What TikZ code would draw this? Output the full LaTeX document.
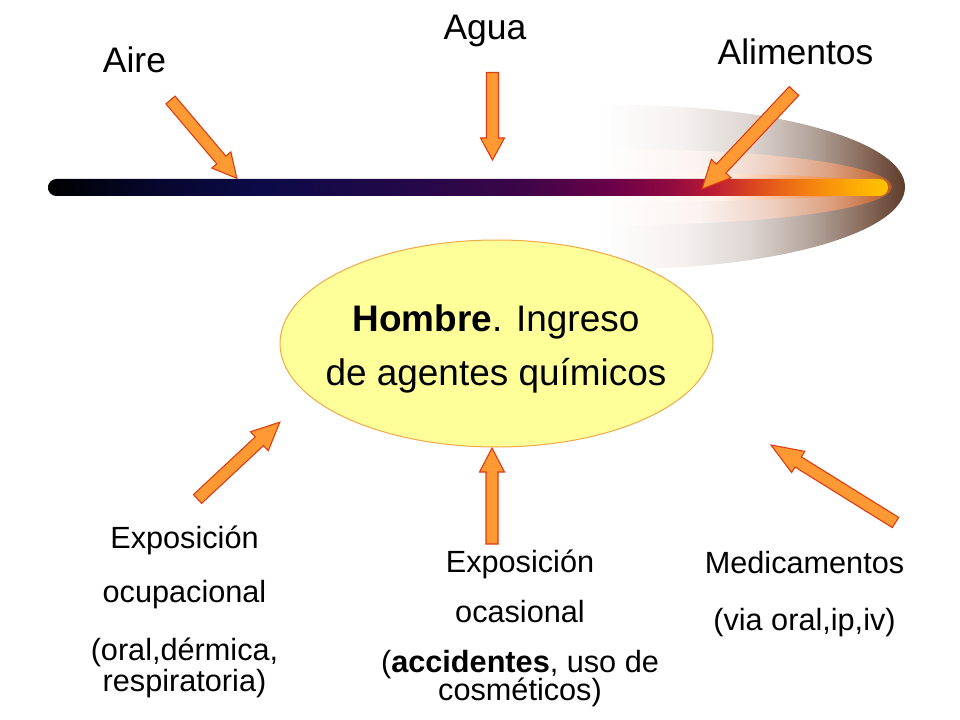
\documentclass[tikz,border=0pt]{standalone}
\usepackage{fontspec}
\setmainfont{Liberation Sans}
\usetikzlibrary{shapes.geometric}

\definecolor{arrfill}{HTML}{FF9933}
\definecolor{arrdraw}{HTML}{DD3A10}
\definecolor{ellfill}{HTML}{FFFF99}
\definecolor{elldraw}{HTML}{F0A848}

% bar colours
\definecolor{bA}{HTML}{000000}
\definecolor{bB}{HTML}{06062C}
\definecolor{bC}{HTML}{0C0A48}
\definecolor{bD}{HTML}{220848}
\definecolor{bE}{HTML}{3C0548}
\definecolor{bF}{HTML}{6A0048}
\definecolor{bG}{HTML}{900A40}
\definecolor{bH}{HTML}{B81A35}
\definecolor{bI}{HTML}{DA4420}
\definecolor{bJ}{HTML}{F27812}
\definecolor{bK}{HTML}{FCA806}
\definecolor{bL}{HTML}{FFC400}
\pgfdeclarehorizontalshading{barshade}{100bp}{color(0bp)=(bA); color(25bp)=(bA);
  color(31.07bp)=(bB); color(37.6bp)=(bC); color(45.95bp)=(bD); color(53.1bp)=(bE);
  color(58.45bp)=(bF); color(62bp)=(bG); color(64.4bp)=(bH); color(66.8bp)=(bI);
  color(69.76bp)=(bJ); color(72.74bp)=(bK); color(75bp)=(bL); color(100bp)=(bL)}

% comet outer glow
\definecolor{oA}{HTML}{FFFFFF}
\definecolor{oB}{HTML}{F5F2F1}
\definecolor{oC}{HTML}{DDD5D1}
\definecolor{oD}{HTML}{B4A59D}
\definecolor{oE}{HTML}{8C6F60}
\definecolor{oF}{HTML}{5E3C2A}
\pgfdeclarehorizontalshading{outershade}{100bp}{color(0bp)=(oA); color(25bp)=(oA);
  color(38.1bp)=(oB); color(49.6bp)=(oC); color(59.4bp)=(oD); color(67.6bp)=(oE);
  color(75bp)=(oF); color(100bp)=(oF)}

% comet middle band
\definecolor{mB}{HTML}{FBF3F0}
\definecolor{mC}{HTML}{EED0C2}
\definecolor{mD}{HTML}{DCA080}
\definecolor{mE}{HTML}{C87444}
\definecolor{mF}{HTML}{B05A2C}
\pgfdeclarehorizontalshading{midshade}{100bp}{color(0bp)=(oA); color(25bp)=(oA);
  color(42.1bp)=(mB); color(54.1bp)=(mC); color(64.4bp)=(mD); color(71.2bp)=(mE);
  color(75bp)=(mF); color(100bp)=(mF)}

% comet inner halo
\definecolor{iB}{HTML}{FFF3EC}
\definecolor{iC}{HTML}{F3A876}
\definecolor{iD}{HTML}{E87828}
\definecolor{iE}{HTML}{D86010}
\pgfdeclarehorizontalshading{innershade}{100bp}{color(0bp)=(oA); color(25bp)=(oA);
  color(45.7bp)=(iB); color(59.5bp)=(iC); color(69.8bp)=(iD); color(75bp)=(iE); color(100bp)=(iE)}

\tikzset{
  blockarrow/.style={fill=arrfill, draw=arrdraw, line width=0.8pt, line join=miter},
  toplbl/.style={anchor=base, inner sep=0pt, font=\fontsize{26.6}{30}\selectfont},
  manlbl/.style={anchor=base, inner sep=0pt, font=\fontsize{27.7}{32}\selectfont},
  botlbl/.style={anchor=base, inner sep=0pt, font=\fontsize{23}{27}\selectfont},
  hombrebox/.style={ellipse, fill=ellfill, draw=elldraw, line width=0.75pt,
    minimum width=324.75pt, minimum height=155.25pt, inner sep=0pt}
}

% block arrow from coordinate #1 (tail) to #2 (tip);
% #3 shaft half width, #4 head half width, #5 head length (px)
\newcommand\blockarr[5]{%
  \pgfmathanglebetweenpoints{\pgfpointanchor{#1}{center}}{\pgfpointanchor{#2}{center}}%
  \let\baang\pgfmathresult
  \pgfpointdiff{\pgfpointanchor{#1}{center}}{\pgfpointanchor{#2}{center}}%
  \pgfgetlastxy{\badx}{\bady}%
  \pgfmathveclen{\badx}{\bady}%
  \let\balen\pgfmathresult
  \begin{scope}[shift={(#1)}, rotate=\baang]
    \draw[blockarrow] (0pt,{-#3*0.75pt}) -- ({\balen pt-#5*0.75pt},{-#3*0.75pt})
      -- ({\balen pt-#5*0.75pt},{-#4*0.75pt}) -- ({\balen pt},0pt)
      -- ({\balen pt-#5*0.75pt},{#4*0.75pt}) -- ({\balen pt-#5*0.75pt},{#3*0.75pt})
      -- (0pt,{#3*0.75pt}) -- cycle;
  \end{scope}}

\begin{document}
\begin{tikzpicture}[x=0.75pt,y=-0.75pt]
\useasboundingbox (0,0) rectangle (960,720);
\fill[white] (0,0) rectangle (960,720);

% comet glow
\path[shading=outershade] (600,105) -- (620,105)
  arc[start angle=-90, end angle=90, x radius=285, y radius=82] -- (600,269) -- cycle;
\path[shading=midshade] (600,149) -- (620,149)
  arc[start angle=-90, end angle=90, x radius=272, y radius=38] -- (600,225) -- cycle;
\path[shading=innershade] (600,172) -- (620,172)
  arc[start angle=-90, end angle=90, x radius=270, y radius=15] -- (600,202) -- cycle;

% bar
\path[shading=barshade, rounded corners=6.3pt] (48,179) rectangle (888,196);

% central ellipse
\node[hombrebox] (hombre) at (496.5,343.5) {};
\node[manlbl] (h1) at (496,331) {\textbf{Hombre}. Ingreso};
\node[manlbl] (h2) at (496,385) {de agentes químicos};

% top labels
\node[toplbl] (aire) at (134.5,73) {Aire};
\node[toplbl] (agua) at (485,40) {Agua};
\node[toplbl] (alim) at (795.5,65) {Alimentos};

% bottom labels
\node[botlbl] (ocu1) at (184.5,548) {Exposición};
\node[botlbl] (ocu2) at (184.5,602) {ocupacional};
\node[botlbl] (ocu3) at (184.5,660) {(oral,dérmica,};
\node[botlbl] (ocu4) at (184.5,691) {respiratoria)};

\node[botlbl] (oca1) at (520,572) {Exposición};
\node[botlbl] (oca2) at (520,622) {ocasional};
\node[botlbl] (oca3) at (520,672) {(\textbf{accidentes}, uso de};
\node[botlbl] (oca4) at (520,700) {cosméticos)};

\node[botlbl] (med1) at (804.5,573) {Medicamentos};
\node[botlbl] (med2) at (804.5,630) {(via oral,ip,iv)};

% arrow end points
\coordinate (aireT) at (170.5,100);  \coordinate (aireH) at (237,178.5);
\coordinate (aguaT) at (492.5,72.5); \coordinate (aguaH) at (492.5,160);
\coordinate (alimT) at (794,91);     \coordinate (alimH) at (702,189);
\coordinate (ocuT)  at (197.5,499);  \coordinate (ocuH)  at (280,422);
\coordinate (ocaT)  at (492,544);    \coordinate (ocaH)  at (492,448);
\coordinate (medT)  at (895.5,522.5);\coordinate (medH)  at (771,445);

\blockarr{aireT}{aireH}{6}{12.5}{24}
\blockarr{aguaT}{aguaH}{6}{12}{22}
\blockarr{alimT}{alimH}{6.5}{13.5}{28}
\blockarr{ocuT}{ocuH}{6}{13}{28}
\blockarr{ocaT}{ocaH}{6}{12.5}{24}
\blockarr{medT}{medH}{6}{12.5}{32}
\end{tikzpicture}
\end{document}
